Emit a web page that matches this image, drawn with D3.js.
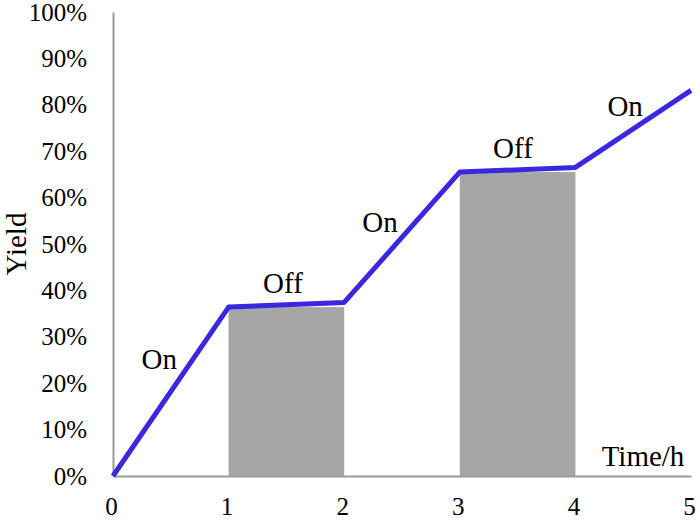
<!DOCTYPE html>
<html>
<head>
<meta charset="utf-8">
<script src="https://cdn.jsdelivr.net/npm/d3@7"></script>
<style>
  body { margin: 0; background: #fff; }
  text { font-family: "Liberation Serif", "Times New Roman", serif; fill: #000; }
</style>
</head>
<body>
<svg id="chart"></svg>
<script>
// yield curve (time in h, yield as fraction)
var times = [0, 1, 2, 3, 4, 5];
var yields = [0, 0.364, 0.374, 0.655, 0.665, 0.831];

// light-off periods drawn as grey blocks
var offStart = [1, 3];
var offEnd = [2, 4];
var offHeight = [0.364, 0.655];

// segment labels
var labelText = ["On", "Off", "On", "Off", "On"];
var labelX = [0.40, 1.47, 2.31, 3.46, 4.43];
var labelY = [0.23, 0.394, 0.525, 0.685, 0.775];

var xTicks = [0, 1, 2, 3, 4, 5];
var yTicks = [0, 0.1, 0.2, 0.3, 0.4, 0.5, 0.6, 0.7, 0.8, 0.9, 1.0];

var width = 700;
var height = 520;
var margin = {top: 12, right: 9, bottom: 44, left: 113};

var svg = d3.select("#chart")
    .attr("width", width)
    .attr("height", height);

var xScale = d3.scaleLinear()
    .domain([0, 5])
    .range([margin.left, width - margin.right]);

var yScale = d3.scaleLinear()
    .domain([0, 1])
    .range([height - margin.bottom, margin.top]);

// grey blocks
svg.selectAll(".off")
    .data(offStart)
    .enter().append("rect")
    .attr("class", "off")
    .attr("x", function (d) { return xScale(d); })
    .attr("y", function (d, i) { return yScale(offHeight[i]); })
    .attr("width", function (d, i) { return xScale(offEnd[i]) - xScale(d); })
    .attr("height", function (d, i) { return yScale(0) - yScale(offHeight[i]); })
    .style("fill", "#a6a6a6");

// axes
var xAxis = svg.append("g")
    .attr("transform", "translate(0," + yScale(0) + ")")
    .call(d3.axisBottom(xScale).tickValues(xTicks).tickSize(0).tickPadding(21).tickFormat(d3.format("d")));

var yAxis = svg.append("g")
    .attr("transform", "translate(" + margin.left + ",0)")
    .call(d3.axisLeft(yScale).tickValues(yTicks).tickSize(0).tickPadding(26).tickFormat(d3.format(".0%")));

xAxis.select(".domain").style("stroke", "#999").style("stroke-width", 2);
yAxis.select(".domain").style("stroke", "#999").style("stroke-width", 2);

xAxis.selectAll("text")
    .style("font-size", "25px")
    .style("font-family", "Liberation Serif")
    .attr("dx", "-2px");

yAxis.selectAll("text")
    .style("font-size", "25px")
    .style("font-family", "Liberation Serif");

// yield line
var line = d3.line()
    .x(function (d) { return xScale(d); })
    .y(function (d, i) { return yScale(yields[i]); });

svg.append("path")
    .datum(times)
    .attr("d", line)
    .style("fill", "none")
    .style("stroke", "#3a28e0")
    .style("stroke-width", 5)
    .style("stroke-linejoin", "round");

// On / Off labels
svg.selectAll(".seg")
    .data(labelText)
    .enter().append("text")
    .attr("class", "seg")
    .attr("x", function (d, i) { return xScale(labelX[i]); })
    .attr("y", function (d, i) { return yScale(labelY[i]); })
    .attr("text-anchor", "middle")
    .style("font-size", "29px")
    .text(function (d) { return d; });

// axis titles
svg.append("text")
    .attr("x", 643)
    .attr("y", 466)
    .attr("text-anchor", "middle")
    .style("font-size", "29px")
    .text("Time/h");

svg.append("text")
    .attr("transform", "translate(26,244)rotate(-90)")
    .attr("text-anchor", "middle")
    .style("font-size", "29px")
    .text("Yield");
</script>
</body>
</html>
